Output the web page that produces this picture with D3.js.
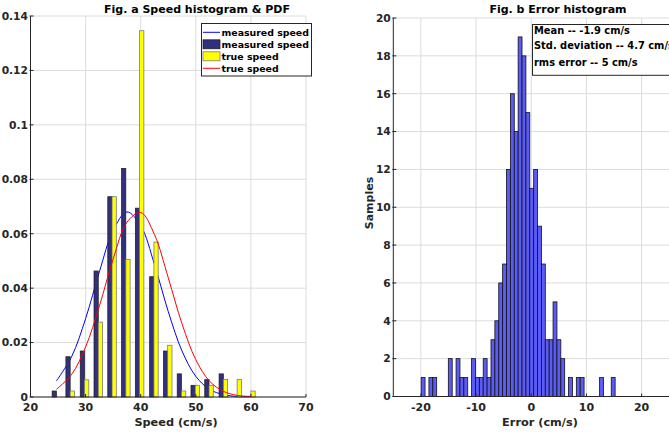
<!DOCTYPE html>
<html>
<head>
<meta charset="utf-8">
<script src="https://cdn.jsdelivr.net/npm/d3@7"></script>
<style>
  html, body { margin: 0; padding: 0; background: #fff; }
  svg { display: block; font-family: "DejaVu Sans", Verdana, sans-serif; font-weight: bold; }
</style>
</head>
<body>
<svg id="chart" width="669" height="435"></svg>
<script>
// ---------- DATA ----------
// Fig. a: speed histogram (probability density), 15 bins
const speedBinCenters = [24.7, 27.2, 29.8, 32.3, 34.8, 37.3, 39.8, 42.4, 44.9, 47.4, 49.9, 52.4, 55.0, 57.5, 60.0];
const measuredDensity = [0.0022, 0.0148, 0.0169, 0.0463, 0.0736, 0.0840, 0.0694, 0.0442, 0.0169, 0.0085, 0.0043, 0.0064, 0.0085, 0, 0];
const trueDensity     = [0, 0.0022, 0.0063, 0.0275, 0.0736, 0.0505, 0.1346, 0.0569, 0.0190, 0.0022, 0.0043, 0.0043, 0.0064, 0.0064, 0.0022];
// PDF curves
const pdfX        = [24.7, 27.5, 30, 32.5, 35, 37.5, 40, 42.5, 45, 47.5, 50, 52.5, 55, 57.5, 60];
const measuredPdf = [0.0059, 0.0150, 0.0288, 0.0460, 0.0612, 0.0680, 0.0630, 0.0487, 0.0314, 0.0169, 0.0076, 0.0028, 0.0009, 0.0002, 0.0001];
const truePdf     = [0.0028, 0.0084, 0.0184, 0.0334, 0.0507, 0.0642, 0.0678, 0.0597, 0.0438, 0.0269, 0.0137, 0.0058, 0.0021, 0.0006, 0.0002];
const speedXTicks = [20, 30, 40, 50, 60, 70];
const speedYTicks = [0, 0.02, 0.04, 0.06, 0.08, 0.1, 0.12, 0.14];
const speedLegend = ["measured speed", "measured speed", "true speed", "true speed"];

// Fig. b: error histogram, 50 bins
const errorBinLo = -19.95;
const errorBinWidth = 0.703;
const errorCounts = [1, 0, 1, 1, 0, 0, 0, 2, 0, 2, 1, 1, 0, 2, 1, 1, 2, 1, 3, 4, 6,
                     7, 12, 16, 14, 19, 18, 15, 11, 12, 9, 7,
                     3, 3, 5, 3, 2, 0, 1, 0, 1, 1, 0, 0, 0, 0, 1, 0, 0, 1];
const errorXTicks = [-20, -10, 0, 10, 20];
const errorYTicks = [0, 2, 4, 6, 8, 10, 12, 14, 16, 18, 20];
const errorStats = ["Mean -- -1.9 cm/s", "Std. deviation -- 4.7 cm/s", "rms error -- 5 cm/s"];

// ---------- DRAW ----------
const svg = d3.select("#chart");
const ink = "#262626", grid = "#dcdcdc";

// ===== Fig. a =====
const ax = d3.scaleLinear().domain([20, 70]).range([30.5, 306]);
const ay = d3.scaleLinear().domain([0, 0.14]).range([397, 16]);
const ga = svg.append("g");

ga.append("g").selectAll("line.gx").data(speedXTicks).join("line")
  .attr("x1", d => ax(d)).attr("x2", d => ax(d)).attr("y1", ay(0)).attr("y2", ay(0.14))
  .attr("stroke", grid).attr("stroke-width", 1);
ga.append("g").selectAll("line.gy").data(speedYTicks).join("line")
  .attr("x1", ax(20)).attr("x2", ax(70)).attr("y1", d => ay(d)).attr("y2", d => ay(d))
  .attr("stroke", grid).attr("stroke-width", 1);

const line = (xs, ys) => d3.line().x((d, i) => ax(xs[i])).y(d => ay(d)).curve(d3.curveCatmullRom)(ys);

// blue pdf (below bars)
ga.append("path").attr("d", line(pdfX, measuredPdf)).attr("fill", "none").attr("stroke", "#0000ff").attr("stroke-width", 1);

const step = ax(speedBinCenters[1]) - ax(speedBinCenters[0]);
const bw = step * 0.31;
ga.append("g").selectAll("rect").data(measuredDensity).join("rect")
  .attr("x", (d, i) => ax(speedBinCenters[i]) - bw).attr("width", bw)
  .attr("y", d => ay(d)).attr("height", d => ay(0) - ay(d))
  .attr("fill", "#32307c").attr("stroke", "#1a1a1a").attr("stroke-width", 0.7);
ga.append("g").selectAll("rect").data(trueDensity).join("rect")
  .attr("x", (d, i) => ax(speedBinCenters[i])).attr("width", bw)
  .attr("y", d => ay(d)).attr("height", d => ay(0) - ay(d))
  .attr("fill", "#ffff00").attr("stroke", "#7a7a7a").attr("stroke-width", 0.8);

// red pdf (above bars)
ga.append("path").attr("d", line(pdfX, truePdf)).attr("fill", "none").attr("stroke", "#ff0000").attr("stroke-width", 1);

// axes
ga.append("line").attr("x1", ax(20)).attr("x2", ax(20)).attr("y1", ay(0)).attr("y2", ay(0.14)).attr("stroke", ink);
ga.append("line").attr("x1", ax(20)).attr("x2", ax(70)).attr("y1", ay(0)).attr("y2", ay(0)).attr("stroke", ink);
ga.append("g").selectAll("line").data(speedYTicks).join("line")
  .attr("x1", ax(20) - 1).attr("x2", ax(20) + 3).attr("y1", d => ay(d)).attr("y2", d => ay(d)).attr("stroke", ink);
ga.append("g").selectAll("line").data(speedXTicks).join("line")
  .attr("x1", d => ax(d)).attr("x2", d => ax(d)).attr("y1", ay(0)).attr("y2", ay(0) - 3).attr("stroke", ink);
ga.append("g").selectAll("text").data(speedYTicks).join("text")
  .attr("x", ax(20) - 2.5).attr("y", d => ay(d) + 3.8).attr("text-anchor", "end")
  .attr("font-size", 10.7).attr("fill", ink).text(d => d3.format("")(d));
ga.append("g").selectAll("text").data(speedXTicks).join("text")
  .attr("x", d => ax(d)).attr("y", 411).attr("text-anchor", "middle")
  .attr("font-size", 11).attr("fill", ink).text(d => d);
ga.append("text").attr("x", 176).attr("y", 426).attr("text-anchor", "middle")
  .attr("font-size", 11.3).attr("fill", ink).text("Speed (cm/s)");
ga.append("text").attr("x", 197).attr("y", 13).attr("text-anchor", "middle")
  .attr("font-size", 11).attr("fill", "#000").text("Fig. a Speed histogram & PDF");

// legend
const lg = ga.append("g");
lg.append("rect").attr("x", 201.5).attr("y", 23.5).attr("width", 110).attr("height", 52.5)
  .attr("fill", "#fff").attr("stroke", ink).attr("stroke-width", 1);
const rowY = i => 32.3 + i * 12;
lg.append("line").attr("x1", 203).attr("x2", 220).attr("y1", rowY(0)).attr("y2", rowY(0)).attr("stroke", "#0000ff");
lg.append("rect").attr("x", 203).attr("y", rowY(1) - 4.5).attr("width", 17).attr("height", 9)
  .attr("fill", "#32307c").attr("stroke", "#1a1a1a").attr("stroke-width", 0.7);
lg.append("rect").attr("x", 203).attr("y", rowY(2) - 4.5).attr("width", 17).attr("height", 9)
  .attr("fill", "#ffff00").attr("stroke", "#7a7a7a").attr("stroke-width", 0.8);
lg.append("line").attr("x1", 203).attr("x2", 220).attr("y1", rowY(3)).attr("y2", rowY(3)).attr("stroke", "#ff0000");
lg.selectAll("text").data(speedLegend).join("text")
  .attr("x", 221.5).attr("y", (d, i) => rowY(i) + 3.4)
  .attr("font-size", 9.4).attr("fill", "#000").text(d => d);

// ===== Fig. b =====
const bx = d3.scaleLinear().domain([-25, 25]).range([393.3, 669.2]);
const by = d3.scaleLinear().domain([0, 20]).range([396.5, 18]);
const gb = svg.append("g");

gb.append("g").selectAll("line").data(errorXTicks).join("line")
  .attr("x1", d => bx(d)).attr("x2", d => bx(d)).attr("y1", by(0)).attr("y2", by(20))
  .attr("stroke", grid);
gb.append("g").selectAll("line").data(errorYTicks).join("line")
  .attr("x1", bx(-25)).attr("x2", bx(25)).attr("y1", d => by(d)).attr("y2", d => by(d))
  .attr("stroke", grid);

gb.append("g").selectAll("rect").data(errorCounts).join("rect")
  .attr("x", (d, i) => bx(errorBinLo + i * errorBinWidth))
  .attr("width", (d, i) => bx(errorBinLo + (i + 1) * errorBinWidth) - bx(errorBinLo + i * errorBinWidth))
  .attr("y", d => by(d)).attr("height", d => by(0) - by(d))
  .attr("fill", "#5b5bf7").attr("stroke", "#111").attr("stroke-width", 0.8);

gb.append("line").attr("x1", bx(-25)).attr("x2", bx(-25)).attr("y1", by(0)).attr("y2", by(20)).attr("stroke", ink);
gb.append("line").attr("x1", bx(-25)).attr("x2", bx(25)).attr("y1", by(0)).attr("y2", by(0)).attr("stroke", ink);
gb.append("g").selectAll("line").data(errorYTicks).join("line")
  .attr("x1", bx(-25) - 1).attr("x2", bx(-25) + 3).attr("y1", d => by(d)).attr("y2", d => by(d)).attr("stroke", ink);
gb.append("g").selectAll("line").data(errorXTicks).join("line")
  .attr("x1", d => bx(d)).attr("x2", d => bx(d)).attr("y1", by(0)).attr("y2", by(0) - 3).attr("stroke", ink);
gb.append("g").selectAll("text").data(errorYTicks).join("text")
  .attr("x", bx(-25) - 2.5).attr("y", d => by(d) + 3.8).attr("text-anchor", "end")
  .attr("font-size", 10.7).attr("fill", ink).text(d => d);
gb.append("g").selectAll("text").data(errorXTicks).join("text")
  .attr("x", d => bx(d)).attr("y", 411).attr("text-anchor", "middle")
  .attr("font-size", 11).attr("fill", ink).text(d => d < 0 ? "-" + Math.abs(d) : d);
gb.append("text").attr("x", 540).attr("y", 426).attr("text-anchor", "middle")
  .attr("font-size", 11.3).attr("fill", ink).text("Error (cm/s)");
gb.append("text").attr("transform", "translate(373,203) rotate(-90)").attr("text-anchor", "middle")
  .attr("font-size", 11).attr("fill", ink).text("Samples");
gb.append("text").attr("x", 558).attr("y", 13).attr("text-anchor", "middle")
  .attr("font-size", 11).attr("fill", "#000").text("Fig. b Error histogram");

const sb = gb.append("g");
sb.append("rect").attr("x", 532.5).attr("y", 24.5).attr("width", 170).attr("height", 50.8)
  .attr("fill", "#fff").attr("stroke", ink).attr("stroke-width", 1);
sb.selectAll("text").data(errorStats).join("text")
  .attr("x", 534).attr("y", (d, i) => [33.5, 49.2, 65.8][i])
  .attr("font-size", 9.9).attr("fill", "#000").text(d => d);
</script>
</body>
</html>
